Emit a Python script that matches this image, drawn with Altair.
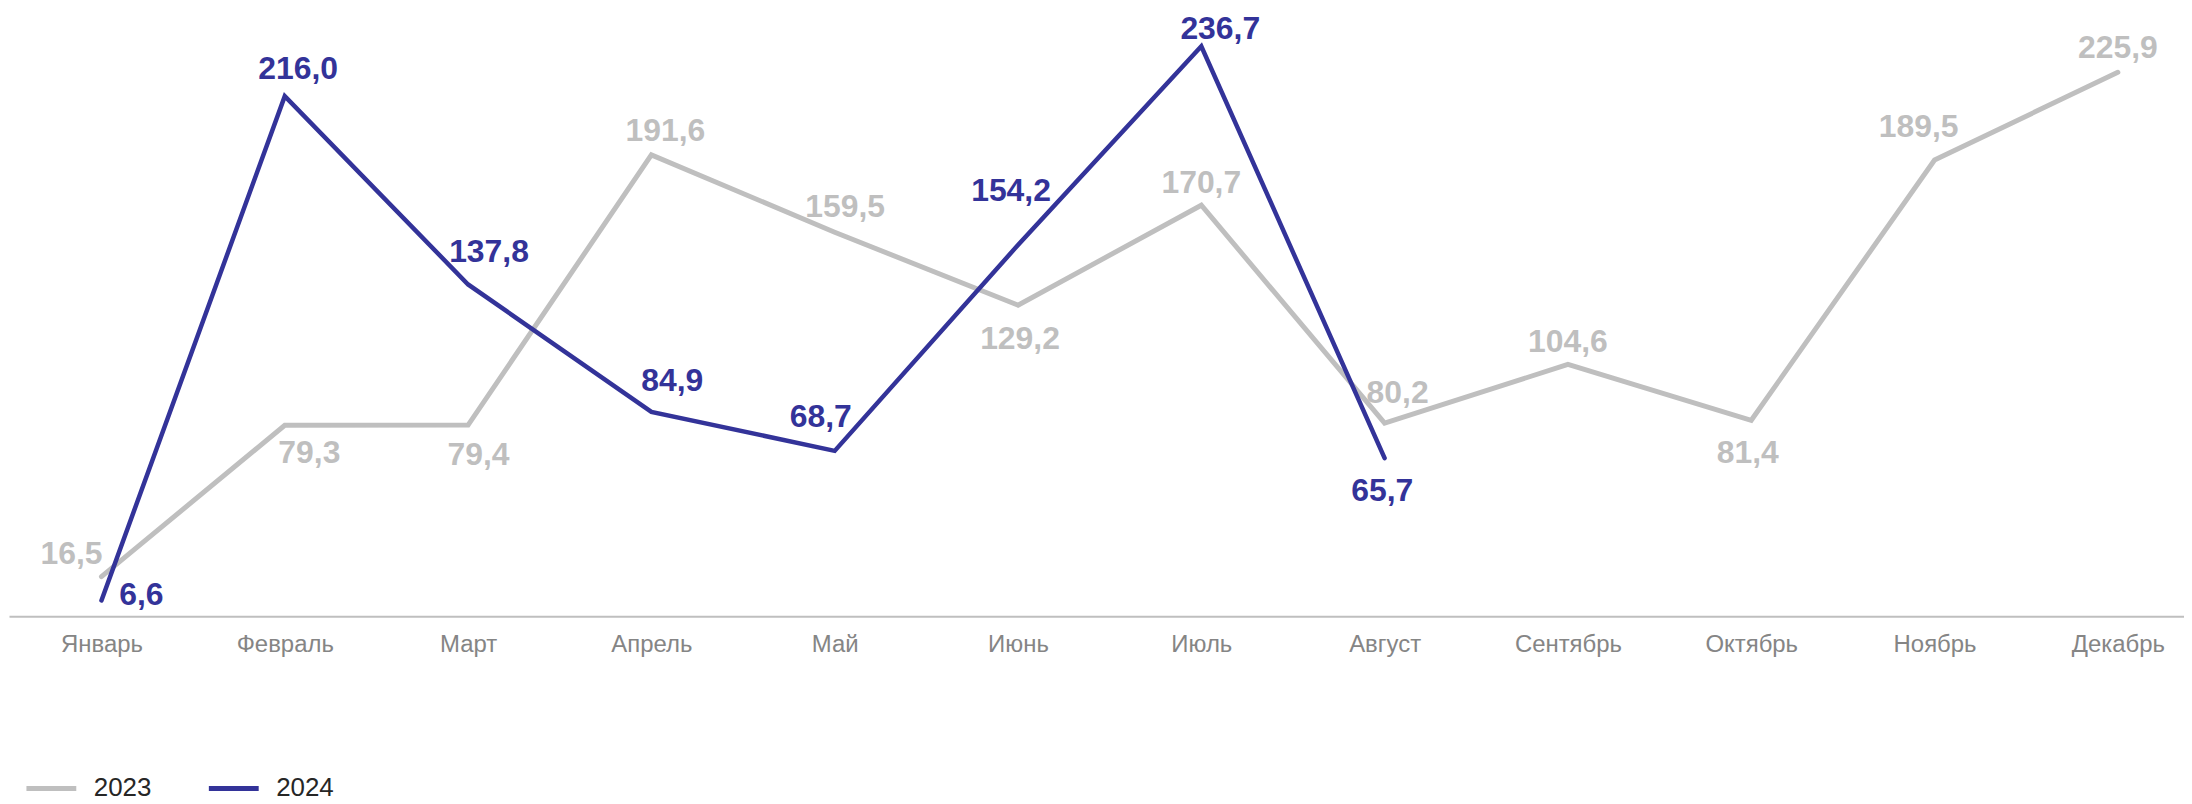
import altair as alt
import pandas as pd

months = ["Январь", "Февраль", "Март", "Апрель", "Май", "Июнь",
          "Июль", "Август", "Сентябрь", "Октябрь", "Ноябрь", "Декабрь"]
years = ["2023", "2024"]
values_2023 = [16.5, 79.3, 79.4, 191.6, 159.5, 129.2, 170.7, 80.2, 104.6, 81.4, 189.5, 225.9]
values_2024 = [6.6, 216.0, 137.8, 84.9, 68.7, 154.2, 236.7, 65.7]

colors = ["#BFBFBF", "#333399"]

rows = []
for yr, vals in zip(years, [values_2023, values_2024]):
    for m, v in zip(months, vals):
        rows.append({"month": m, "year": yr, "value": v,
                     "label": f"{v:.1f}".replace(".", ",")})
df = pd.DataFrame(rows)

# label placement (pixel offsets from the point), layout only
offsets = {
    "2023": [(-30, -22.6), (24.7, 27.6), (10.5, 30.5), (14, -23.8), (10.5, -25.5), (2, 33.9),
             (0, -22.1), (13, -30.7), (0, -22.9), (-3.5, 32.7), (-16, -33.1), (0, -24.1)],
    "2024": [(40, -5), (13.4, -27.4), (21, -32.4), (21, -30.6), (-14, -33.8), (-7, -53.7),
             (19, -17.4), (-2.4, 33.3)],
}

FONT = "Liberation Sans"

x_enc = alt.X("month:N", sort=months,
              scale=alt.Scale(type="point", domain=months, padding=0.4326, align=0.583),
              axis=alt.Axis(title=None, labelAngle=0, ticks=False, tickSize=0, labelPadding=16,
                            labelFontSize=24, labelColor="#858585", labelFont=FONT,
                            domainColor="#BFBFBF", domainWidth=2, grid=False))
y_enc = alt.Y("value:Q", scale=alt.Scale(domain=[0, 250], nice=False, zero=True), axis=None)
color_enc = alt.Color("year:N", scale=alt.Scale(domain=years, range=colors),
                      legend=alt.Legend(title=None, orient="none", legendX=15, legendY=749,
                                        direction="horizontal", symbolType="stroke",
                                        symbolSize=2500, symbolStrokeWidth=5,
                                        labelFontSize=26, labelFont=FONT, labelColor="#262626",
                                        labelOffset=15, columnPadding=47, padding=0))

base = alt.Chart(df)

layers = []
for yr, sw in zip(years, [5, 4.5]):
    layers.append(
        base.transform_filter(alt.datum.year == yr)
        .mark_line(strokeWidth=sw, strokeCap="round", strokeJoin="miter")
        .encode(x=x_enc, y=y_enc, color=color_enc)
    )

for yr, col in zip(years, colors):
    vals = values_2023 if yr == "2023" else values_2024
    for i, m in enumerate(months[:len(vals)]):
        dx, dy = offsets[yr][i]
        layers.append(
            base.transform_filter((alt.datum.year == yr) & (alt.datum.month == m))
            .mark_text(dx=dx, dy=dy, font=FONT, fontSize=32, fontWeight="bold",
                       color=col, align="center", baseline="middle")
            .encode(x=x_enc, y=y_enc, text="label:N")
        )

chart = alt.layer(*layers).properties(
    width=2182, height=604,
    padding={"left": 1, "top": 5, "right": 0, "bottom": 187},
    autosize=alt.AutoSizeParams(type="none"),
).configure(font=FONT).configure_view(stroke=None)

chart.save("out.html", embed_options={"renderer": "svg", "actions": False})
